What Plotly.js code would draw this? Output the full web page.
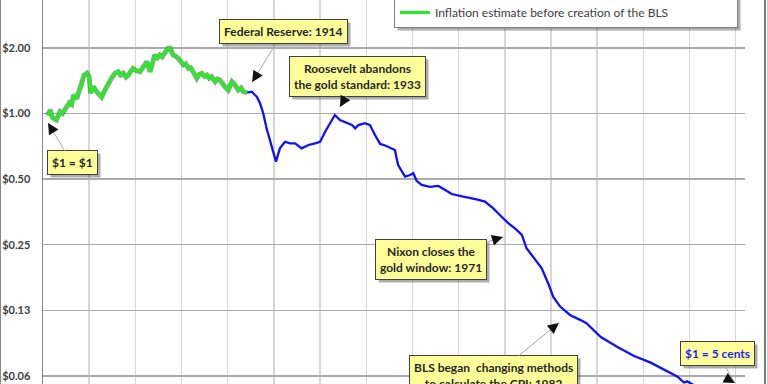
<!DOCTYPE html>
<html><head><meta charset="utf-8">
<script src="https://cdn.plot.ly/plotly-3.0.1.min.js"></script>
<style>html,body{margin:0;padding:0;background:#fff;} #chart{width:768px;height:384px;}</style>
</head><body><div id="chart"></div>
<script>
// ---- data ----
const estYears  = [1871.0,1871.3,1871.6,1871.9,1872.2,1872.9,1873.3,1873.7,1874.2,1874.8,1875.3,1875.7,1876.2,1876.6,1877.3,1878.0,1878.5,1878.9,1879.5,1880.0,1880.3,1880.9,1881.6,1882.2,1882.7,1883.4,1884.0,1884.5,1885.0,1885.6,1886.3,1886.8,1887.4,1888.0,1888.5,1889.0,1889.5,1890.2,1891.0,1891.4,1891.8,1892.5,1893.2,1893.7,1894.2,1894.8,1895.3,1895.8,1896.4,1897.1,1897.5,1897.8,1898.2,1898.8,1899.3,1900.4,1900.9,1901.5,1902.0,1902.5,1903.3,1903.8,1904.4,1905.0,1905.5,1906.0,1906.5,1907.3,1907.8,1908.3,1909.0,1909.6,1910.1,1910.9,1911.6,1912.3,1912.9,1913.4,1914.2];
const estValues = [0.98,1.02,1.04,0.97,0.95,0.935,0.97,1.02,1.00,1.04,1.08,1.12,1.10,1.215,1.17,1.305,1.35,1.50,1.53,1.475,1.24,1.33,1.26,1.23,1.19,1.28,1.36,1.425,1.47,1.53,1.555,1.50,1.53,1.47,1.50,1.56,1.61,1.57,1.555,1.60,1.64,1.73,1.555,1.70,1.855,1.80,1.855,1.82,1.92,1.99,1.99,1.93,1.855,1.83,1.79,1.67,1.69,1.61,1.62,1.555,1.45,1.51,1.53,1.48,1.50,1.45,1.475,1.40,1.44,1.425,1.35,1.31,1.28,1.40,1.35,1.28,1.31,1.26,1.246];
const cpiYears  = [1914.2,1915.2,1915.9,1916.3,1917.0,1917.7,1918.4,1919.5,1920.45,1921.3,1922.4,1923.5,1924.6,1926.0,1927.5,1928.9,1930.0,1931.1,1932.2,1933.2,1934.3,1935.8,1936.9,1937.6,1938.3,1939.7,1940.8,1941.9,1943.0,1944.1,1946.2,1946.9,1948.4,1949.5,1950.2,1950.9,1952.0,1953.8,1955.6,1957.1,1958.5,1961.0,1963.9,1965.7,1967.5,1969.3,1970.8,1972.2,1973.7,1974.7,1976.2,1978.0,1979.4,1980.5,1982.0,1984.1,1986.3,1987.7,1989.2,1990.8,1994.3,1998.0,2001.6,2005.1,2007.4,2008.8,2009.5,2012.0,2015.0,2018.0,2020.0];
const cpiValues = [1.246,1.259,1.216,1.194,1.114,1.00,0.858,0.704,0.601,0.692,0.742,0.730,0.730,0.692,0.717,0.730,0.742,0.825,0.902,0.984,0.934,0.902,0.885,0.855,0.885,0.902,0.885,0.797,0.725,0.713,0.680,0.580,0.513,0.522,0.532,0.491,0.470,0.461,0.465,0.446,0.427,0.415,0.404,0.394,0.367,0.336,0.313,0.297,0.277,0.241,0.220,0.195,0.166,0.144,0.130,0.119,0.113,0.109,0.1015,0.0943,0.0850,0.0771,0.0719,0.0658,0.0620,0.0583,0.0590,0.0550,0.0530,0.0505,0.0490];
const yTickVals = [2, 1, 0.5, 0.25, 0.125, 0.0625];
const yTickText = ['$2.00', '$1.00', '$0.50', '$0.25', '$0.13', '$0.06'];
const seriesNames = ['Official inflation based on the BLS Consumer Price Index', 'Inflation estimate before creation of the BLS'];
const noteTexts = ['$1 = $1', 'Federal Reserve: 1914', 'Roosevelt abandons<br>the gold standard: 1933', 'Nixon closes the<br>gold window: 1971', 'BLS began\u00a0 changing methods<br>to calculate the CPI: 1982', '$1 = 5 cents'];
const noteYears  = [1871.1, 1915.3, 1934.3, 1969.6, 1981.7, 2019.8];
const noteValues = [0.905, 1.395, 1.071, 0.271, 0.1094, 0.054];

// ---- layout geometry ----
const W = 768, H = 384, ML = 43, MR = 23;
const PW = W - ML - MR;
const Y_RANGE = [-1.2413, 0.5208];
const px2x = px => (px - ML) / PW;
const py2y = py => 1 - py / H;
const noteOffsets = [[24, 40], [31, -50], [18, -31], [-72, 22], [-65, 53], [-17, -36]];
const noteColors = ['#262626', '#262626', '#262626', '#262626', '#262626', '#1f1fff'];
const FONT = 'Lato, "Open Sans", sans-serif';

// a note whose tip lies below the visible range is anchored in paper units so it is still drawn
function tipY(v) {
  const ly = Math.log10(v);
  if (ly < Y_RANGE[0]) return {yref: 'paper', y: (ly - Y_RANGE[0]) / (Y_RANGE[1] - Y_RANGE[0])};
  return {yref: 'y', y: ly};
}

const traces = [
  {x: cpiYears, y: cpiValues, type: 'scatter', mode: 'lines', name: seriesNames[0],
   line: {color: '#1010ff', width: 2.3}, hoverinfo: 'skip'},
  {x: estYears, y: estValues, type: 'scatter', mode: 'lines', showlegend: false,
   line: {color: 'rgba(40,70,40,0.5)', width: 5}, hoverinfo: 'skip'},
  {x: estYears, y: estValues, type: 'scatter', mode: 'lines', name: seriesNames[1],
   line: {color: '#22ee22', width: 3}, hoverinfo: 'skip'}
];

const annotations = [];
// boxes with gray leader lines
noteTexts.forEach((t, i) => {
  annotations.push(Object.assign({x: noteYears[i], xref: 'x', text: t,
    showarrow: true, ax: noteOffsets[i][0], ay: noteOffsets[i][1], arrowcolor: '#a6a6a6', arrowwidth: 1, arrowhead: 0,
    bgcolor: '#ffff99', bordercolor: '#404040', borderwidth: 1, borderpad: 4,
    font: {family: FONT, size: 12, color: noteColors[i], weight: 'bold'}}, tipY(noteValues[i])));
});
// black arrow heads at the tips
noteTexts.forEach((t, i) => {
  const [dx, dy] = noteOffsets[i];
  const len = Math.hypot(dx, dy);
  annotations.push(Object.assign({x: noteYears[i], xref: 'x', text: ' ',
    showarrow: true, ax: dx / len * 10, ay: dy / len * 10, arrowcolor: '#111', arrowwidth: 2, arrowhead: 2, arrowsize: 1.1,
    font: {size: 1}}, tipY(noteValues[i])));
});

const shapes = [
  // outer chart frame edges
  {type: 'line', xref: 'paper', yref: 'paper', x0: px2x(0.5), x1: px2x(0.5), y0: 0, y1: 1, line: {color: '#8a8a8a', width: 1}},
  {type: 'line', xref: 'paper', yref: 'paper', x0: px2x(765), x1: px2x(765), y0: 0, y1: 1, line: {color: '#7a7a7a', width: 2}},
  {type: 'line', xref: 'paper', yref: 'paper', x0: px2x(767.5), x1: px2x(767.5), y0: 0, y1: 1, line: {color: '#cfcfcf', width: 1}}
];

const layout = {
  width: W, height: H,
  margin: {l: ML, r: MR, t: 0, b: 0, pad: 0, autoexpand: false},
  paper_bgcolor: '#ffffff', plot_bgcolor: 'rgba(0,0,0,0)',
  showlegend: true,
  legend: {x: px2x(394), y: py2y(28), xanchor: 'left', yanchor: 'bottom', bgcolor: '#ffffff',
    bordercolor: '#808080', borderwidth: 1, font: {family: FONT, size: 12, color: '#404040'},
    tracegroupgap: 0, itemwidth: 30},
  xaxis: {range: [1870, 1870 + PW / 4.618], showgrid: true, gridcolor: '#d6d6d6', gridwidth: 1.5,
    tick0: 1870, dtick: 10, showticklabels: false, ticks: '', zeroline: false, showline: false, fixedrange: true},
  yaxis: {type: 'log', range: Y_RANGE, tickvals: yTickVals, ticktext: yTickText,
    showgrid: true, gridcolor: '#ababab', gridwidth: 1.5, showline: true, linecolor: '#868686', linewidth: 1.5,
    ticks: '', ticklabelstandoff: 9, tickfont: {family: FONT, size: 11, color: '#404040', weight: 'bold'},
    zeroline: false, fixedrange: true},
  annotations: annotations,
  shapes: shapes
};

function shadowRect(r, root) {
  const l = r.left - root.left + 3, t = r.top - root.top + 3;
  const rr = r.right - root.left + 3, b = r.bottom - root.top + 3;
  return {type: 'rect', xref: 'paper', yref: 'paper', x0: px2x(l), x1: px2x(rr), y0: py2y(b), y1: py2y(t),
    fillcolor: 'rgba(70,70,70,0.45)', line: {width: 0}, layer: 'above'};
}

Plotly.newPlot('chart', traces, layout, {staticPlot: true, displayModeBar: false}).then(gd => {
  const root = gd.getBoundingClientRect();
  const extra = [];
  gd.querySelectorAll('.annotation').forEach(g => {
    const bg = g.querySelector('rect.bg');
    if (!bg) return;
    const r = bg.getBoundingClientRect();
    if (r.width < 12 || r.height < 12) return;
    extra.push(shadowRect(r, root));
  });
  const lg = gd.querySelector('.legend rect.bg');
  if (lg) extra.push(shadowRect(lg.getBoundingClientRect(), root));
  return Plotly.relayout(gd, {shapes: shapes.concat(extra)});
});
</script>
</body></html>
